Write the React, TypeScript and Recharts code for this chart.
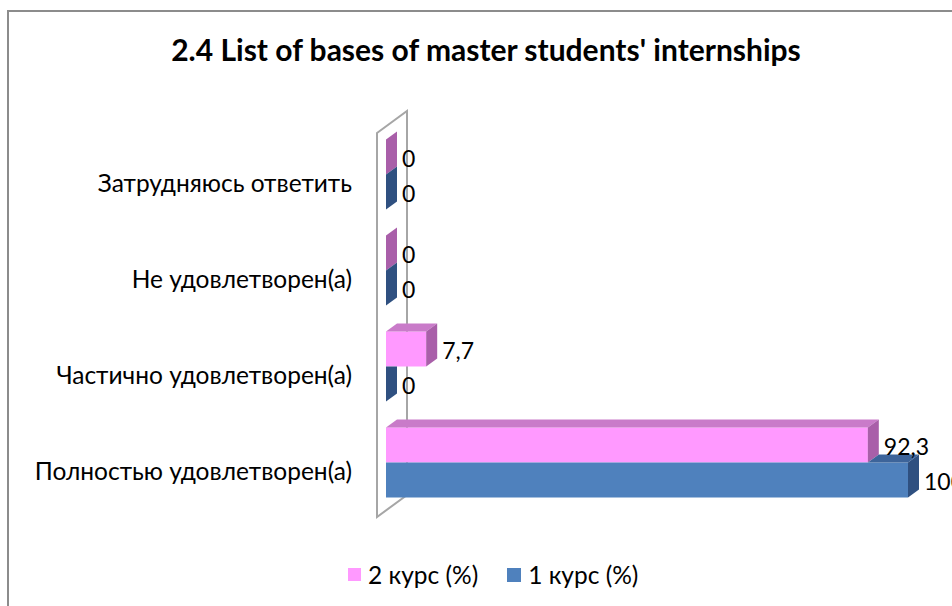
import React from 'react';
import { BarChart, Bar, XAxis, YAxis, ReferenceArea } from 'recharts';

const categories = [
  'Затрудняюсь ответить',
  'Не удовлетворен(а)',
  'Частично удовлетворен(а)',
  'Полностью удовлетворен(а)',
];
const course2 = [0, 0, 7.7, 92.3];
const course1 = [0, 0, 0, 100];
const seriesNames = ['2 курс (%)', '1 курс (%)'];

const data = categories.map((name, i) => ({ name, course2: course2[i], course1: course1[i] }));

const FONT = 'Lato, "Open Sans", sans-serif';
const DX = 11;
const DY = 8;

const PINK = { front: '#ff99ff', top: '#c97bc9', side: '#a95fa9' };
const BLUE = { front: '#4f81bd', top: '#3d649a', side: '#2f5080' };

const pts = (arr: number[][]) => arr.map((p) => p.join(',')).join(' ');

// 3D box: front, top and right side faces
const Box3D = (props: any, c: any, occluderKey?: string) => {
  const { x, y, width, height, payload, value } = props;
  const w = Math.max(0, width || 0);
  const X = x + w;
  let topStart = x;
  let clipSide = false;
  if (occluderKey) {
    // bar sitting above hides part of the top face
    const v = Array.isArray(value) ? value[1] - value[0] : value;
    const perUnit = v > 0 ? w / v : 5.22;
    const pe = x + payload[occluderKey] * perUnit;
    topStart = Math.max(x, pe);
    if (pe >= X + DX) clipSide = true;
  }
  return (
    <g>
      {w > 0 && <rect x={x} y={y} width={w} height={height} fill={c.front} />}
      {X > topStart && (
        <polygon
          points={pts([[topStart, y], [topStart + DX, y - DY], [X + DX, y - DY], [X, y]])}
          fill={c.top}
        />
      )}
      <polygon
        points={
          clipSide
            ? pts([[X, y], [X + DX, y], [X + DX, y + height - DY], [X, y + height]])
            : pts([[X, y], [X + DX, y - DY], [X + DX, y + height - DY], [X, y + height]])
        }
        fill={c.side}
      />
    </g>
  );
};

const ValueLabel = (props: any) => {
  const { x, y, width, height, value } = props;
  return (
    <text
      x={x + Math.max(0, width) + DX + 5}
      y={y + height / 2 + 1}
      dominantBaseline="central"
      fontFamily={FONT}
      fontSize={23}
      fill="#000"
    >
      {String(value).replace('.', ',')}
    </text>
  );
};

const CategoryTick = (props: any) => {
  const { y, payload } = props;
  return (
    <text x={352} y={y + 8} textAnchor="end" dominantBaseline="central" fontFamily={FONT} fontSize={24.5} fill="#000">
      {payload.value}
    </text>
  );
};

// side wall of the 3D plot, drawn relative to the plot rectangle
const Wall = (props: any) => {
  const { x, y, height } = props;
  const fx = x - 9;
  const bx = x + 21;
  return (
    <polygon
      points={pts([[fx, y + 7], [bx, y - 15], [bx, y + height - 15], [fx, y + height + 7]])}
      fill="none"
      stroke="#a6a6a6"
      strokeWidth={2}
    />
  );
};

export default function App() {
  return (
    <div style={{ position: 'absolute', left: 0, top: 0, width: 952, height: 606, overflow: 'hidden', background: '#fff' }}>
      <div
        style={{ position: 'absolute', left: 7, top: 10, width: 980, height: 640, border: '2px solid #8c8c8c', boxSizing: 'border-box' }}
      />
      <div
        style={{
          position: 'absolute', left: 486, top: 31, transform: 'translateX(-50%)', whiteSpace: 'nowrap',
          fontFamily: FONT, fontWeight: 700, fontSize: 30, color: '#000',
        }}
      >
        2.4 List of bases of master students' internships
      </div>
      <div style={{ position: 'absolute', left: 0, top: 0 }}>
        <BarChart
          width={952}
          height={606}
          data={data}
          layout="vertical"
          margin={{ top: 126, right: 44, bottom: 96, left: 0 }}
          barCategoryGap={13.5}
          barGap={0}
        >
          <XAxis type="number" domain={[0, 100]} hide />
          <YAxis type="category" dataKey="name" width={386} axisLine={false} tickLine={false} tick={<CategoryTick />} />
          <ReferenceArea x1={0} x2={100} shape={<Wall />} ifOverflow="visible" />
          <Bar
            dataKey="course2"
            name={seriesNames[0]}
            isAnimationActive={false}
            shape={(p: any) => Box3D(p, PINK)}
            label={<ValueLabel />}
          />
          <Bar
            dataKey="course1"
            name={seriesNames[1]}
            isAnimationActive={false}
            shape={(p: any) => Box3D(p, BLUE, 'course2')}
            label={<ValueLabel />}
          />
        </BarChart>
      </div>
      <div
        style={{
          position: 'absolute', left: 348, top: 560, display: 'flex', alignItems: 'center',
          fontFamily: FONT, fontSize: 24.5, color: '#000',
        }}
      >
        <span style={{ width: 13, height: 13, background: PINK.front, marginRight: 7 }} />
        <span style={{ marginRight: 29 }}>{seriesNames[0]}</span>
        <span style={{ width: 14, height: 14, background: BLUE.front, marginRight: 7 }} />
        <span>{seriesNames[1]}</span>
      </div>
    </div>
  );
}
